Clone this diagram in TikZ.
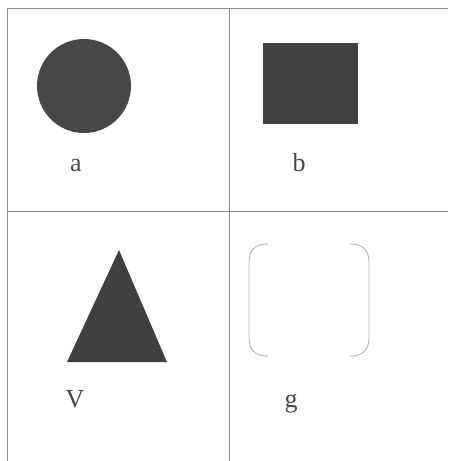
\documentclass[tikz,border=0pt]{standalone}
\usepackage{fontspec}
\setmainfont{Liberation Serif}
\begin{document}
\begin{tikzpicture}[x=1pt,y=-1pt,
  gridline/.style={draw=black!45,line width=0.9pt},
  shapefill/.style={fill=black!72,draw=none},
  lbl/.style={text=black!72,font=\fontsize{26}{30}\selectfont,inner sep=0pt,anchor=base}]
\useasboundingbox (0,0) rectangle (448,461);
% grid
\draw[gridline] (7,8) -- (448,8);
\draw[gridline] (7,211) -- (448,211);
\draw[gridline] (7,8) -- (7,461);
\draw[gridline] (229,8) -- (229,461);
% a
\node[shapefill,circle,minimum size=94pt,inner sep=0pt] (circ) at (84,86) {};
\node[lbl] (la) at (76,171) {a};
% b
\node[shapefill,rectangle,minimum width=95pt,minimum height=81pt,inner sep=0pt,fill=black!74] (sq) at (310.5,83.5) {};
\node[lbl] (lb) at (299,171) {b};
% V
\fill[black!75] (119,250) coordinate (tA) -- (167,362) coordinate (tB) -- (67,362) coordinate (tC) -- cycle;
\node[lbl] (lv) at (75,407) {V};
% g
\draw[black!30,line width=0.9pt] (268,244) .. controls (255,244) and (249,250) .. (249,262) -- (249,338) .. controls (249,350) and (255,356) .. (268,356);
\draw[black!30,line width=0.9pt] (350,244) .. controls (363,244) and (369,250) .. (369,262) -- (369,338) .. controls (369,350) and (363,356) .. (350,356);
\node[lbl] (lg) at (291,407) {g};
\end{tikzpicture}
\end{document}
